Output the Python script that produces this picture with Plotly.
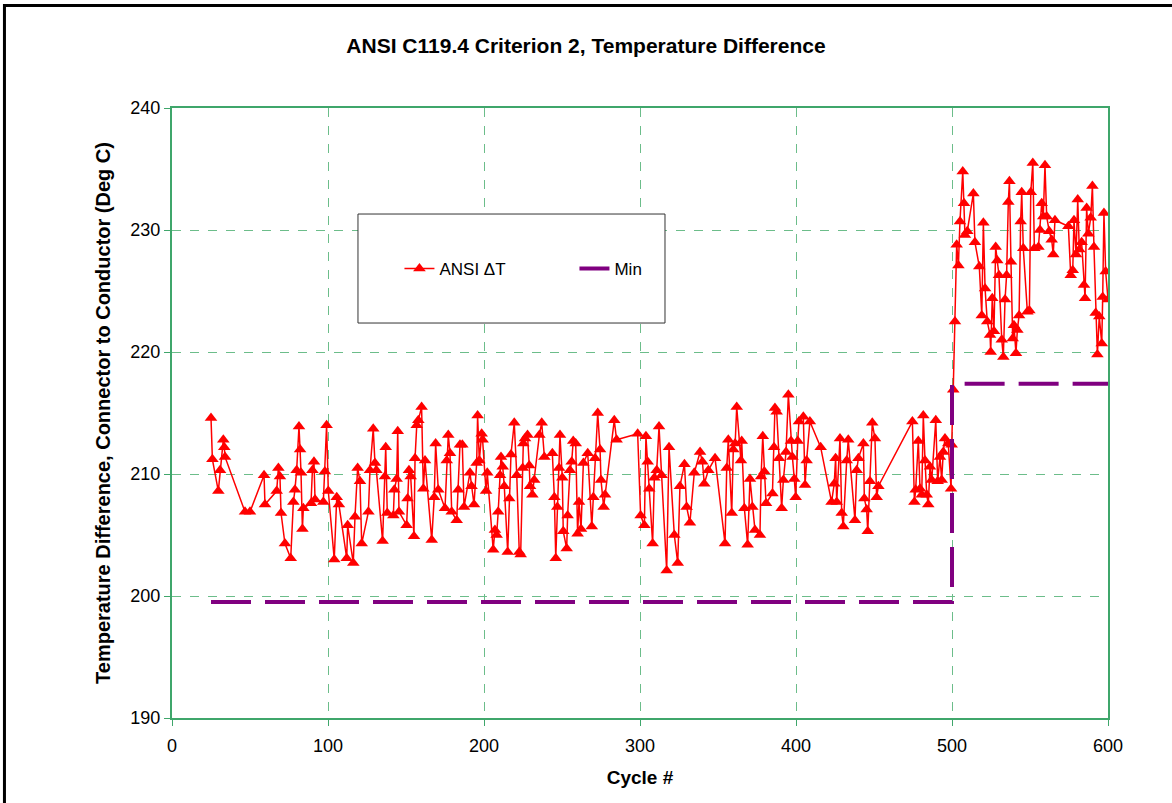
import plotly.graph_objects as go

# ---- data ----
cycles = [
    25.0, 25.9, 29.7, 30.8, 32.9, 33.5, 34.0, 46.8, 50.0, 59.0, 59.6, 67.1, 68.2, 69.2, 69.9, 72.4,
    76.1, 77.8, 78.8, 79.9, 81.4, 82.1, 82.7, 83.6, 84.2, 89.1, 90.0, 91.0, 91.7, 97.0, 98.0, 99.1,
    100.2, 104.0, 105.6, 107.0, 112.0, 112.6, 116.2, 117.3, 119.0, 120.5, 121.6,
    125.9, 126.9, 129.0, 130.1, 131.0, 135.0, 136.5, 137.0, 138.0, 141.9, 142.5, 144.0, 144.7, 145.5,
    150.4, 151.0, 151.9, 153.0, 155.1, 155.8, 156.9, 157.9, 160.0, 161.1, 162.2, 166.5, 168.1, 169.0,
    170.7, 175.0, 176.1, 177.1, 178.2, 179.3, 182.5, 183.5, 184.6, 186.1, 187.2, 191.0, 192.0, 193.6,
    195.3, 195.9, 197.0, 198.5, 199.1, 201.3, 202.1, 205.9, 207.0, 208.1, 209.1, 210.3, 210.9, 212.0,
    213.0, 215.2, 216.2, 217.3, 219.4, 221.0, 222.6, 223.5, 224.8, 225.2,
    226.3, 227.9, 229.0, 229.5, 231.0, 232.2, 235.5, 237.0, 238.7, 243.8, 245.1, 246.0, 247.0, 248.1,
    248.7, 250.2, 250.8, 253.0, 253.6, 255.1, 256.2, 257.2, 258.8, 260.0, 260.9, 262.2, 263.7, 266.5,
    269.1, 270.1, 271.2, 272.9, 274.4, 275.0, 276.7, 277.6, 283.5, 285.0, 298.5, 300.4, 302.8, 303.8,
    304.9, 305.9, 308.1, 309.2, 310.7, 312.2, 313.9, 317.1, 318.6, 322.0, 324.2, 325.6,
    328.5, 329.9, 332.0, 334.8, 338.5, 340.0, 341.2, 343.8, 348.1, 354.5, 355.6, 356.6, 358.8, 359.8,
    361.0, 362.0, 364.7, 365.2, 366.9, 369.0, 370.5, 372.0, 373.7, 376.9, 377.6, 378.7, 379.7, 380.8,
    384.9, 385.9, 386.5, 387.6, 389.1, 390.8, 391.9, 393.6, 395.1, 396.8, 397.7, 398.9, 399.8, 401.1,
    401.9, 404.7, 405.8, 406.8, 408.9, 415.8, 422.8, 424.5, 425.4, 426.1, 428.2, 429.3, 430.3, 432.5,
    433.5, 437.8, 438.9, 440.0, 443.2, 443.8, 445.3, 446.0, 447.4, 448.9, 450.6, 451.7, 452.8,
    474.6, 475.9, 476.7, 478.4, 479.5, 480.6, 481.6, 482.7, 483.8, 484.8, 485.9, 487.0, 489.6, 490.8,
    492.3, 493.4, 494.4, 495.5, 497.6, 499.4, 499.8, 500.8,
    501.9, 503.0, 504.1, 505.1, 506.9, 507.7, 508.3, 509.8, 513.7, 514.7, 517.5, 519.1, 520.1, 521.2,
    522.6, 524.4, 524.8, 525.8, 526.9, 528.0, 529.0, 530.1, 531.9, 532.9, 534.0, 535.0, 536.1, 536.8,
    537.8, 538.9, 539.7, 541.0, 541.9, 543.0, 544.0, 544.7, 545.7, 548.3, 549.6, 550.5, 551.8, 552.8,
    555.4, 556.4, 557.5, 558.5, 559.6, 560.7, 562.3, 563.9, 564.9, 566.0, 574.6, 576.1, 577.4, 578.2,
    579.5, 580.6, 581.6, 583.1, 584.6, 585.3, 586.3, 587.4, 588.9, 590.0, 591.0, 592.1, 593.2, 594.4,
    596.0, 596.6, 597.4, 598.5, 600.0,
]
ansi_dt = [
    214.6, 211.2, 208.6, 210.3, 212.8, 212.2, 211.4, 206.9, 206.9, 209.9, 207.5, 208.6, 210.5, 209.8, 206.8, 204.3,
    203.1, 207.7, 208.7, 210.3, 213.9, 212.0, 210.1, 205.5, 207.2, 207.6, 210.3, 211.0, 207.9, 207.7, 210.2, 214.0,
    208.6, 203.0, 208.1, 207.5, 203.1, 205.8, 202.7, 206.5, 210.5, 209.4, 204.3,
    206.9, 210.3, 213.7, 210.9, 210.3, 204.5, 209.8, 212.2, 206.8, 206.6, 208.7, 209.6, 213.5, 206.9,
    205.8, 208.0, 210.3, 209.8, 204.9, 211.3, 214.0, 214.4, 215.5, 208.8, 211.1, 204.6, 208.1, 212.5,
    208.7, 207.2, 211.1, 213.2, 211.7, 206.9, 206.2, 208.7, 212.4, 212.4, 207.3, 210.1, 209.0, 207.5,
    210.9, 214.8, 211.1, 213.3, 212.8, 208.6, 210.1, 203.8, 205.4, 205.0, 206.9, 209.9, 211.4, 210.6,
    209.0, 203.6, 208.0, 211.6, 214.2, 209.9, 203.6, 203.4, 210.5, 212.5,
    212.9, 213.2, 210.7, 209.0, 208.3, 209.5, 213.2, 214.2, 211.4, 211.7, 208.1, 203.1, 207.3, 210.5,
    213.2, 209.7, 205.3, 203.9, 206.6, 210.3, 211.0, 212.7, 212.5, 205.1, 207.7, 205.5, 210.9, 211.7,
    205.7, 208.1, 211.3, 215.0, 212.0, 209.5, 207.3, 208.3, 214.4, 212.8, 213.3, 206.6, 205.8, 213.1,
    211.0, 208.8, 204.3, 209.7, 210.3, 213.9, 209.9, 202.1, 212.2, 205.0, 202.7, 209.0,
    210.8, 207.3, 206.0, 210.1, 211.8, 211.0, 209.2, 210.3, 211.3, 204.3, 210.5, 212.8, 206.8, 212.0,
    212.5, 215.5, 211.1, 212.7, 207.2, 204.2, 209.6, 207.3, 205.4, 205.0, 209.8, 213.1, 210.2, 207.6,
    208.4, 212.2, 215.4, 215.1, 211.3, 207.2, 209.5, 211.8, 216.5, 212.7, 211.4, 209.6, 208.1, 212.7,
    214.3, 214.7, 209.1, 211.1, 214.3, 212.2, 207.7, 209.2, 211.3, 207.7, 212.9, 206.8, 205.7, 211.1,
    212.8, 206.2, 210.3, 211.3, 212.5, 208.0, 207.1, 205.3, 209.4, 214.2, 212.9, 208.1, 209.0,
    214.3, 207.7, 208.7, 212.7, 208.8, 208.3, 214.8, 211.1, 208.3, 207.5, 210.6, 209.5, 214.4, 209.4,
    211.4, 209.5, 211.8, 212.9, 212.5, 208.8, 212.4, 216.9,
    222.5, 228.8, 227.1, 230.7, 234.8, 232.2, 229.6, 229.9, 233.0, 229.0, 227.0, 223.0, 230.6, 225.2,
    222.5, 221.4, 220.0, 224.4, 221.7, 228.6, 227.5, 226.3, 221.0, 219.6, 224.3, 226.3, 232.3, 234.0,
    227.4, 221.1, 222.2, 219.9, 221.8, 223.0, 230.7, 233.1, 228.5, 223.3, 223.4, 233.1, 235.5, 228.5,
    228.6, 230.0, 232.2, 231.1, 235.3, 231.1, 229.9, 229.2, 228.0, 230.8, 230.3, 226.3, 226.7, 230.8,
    228.0, 232.5, 228.4, 229.0, 225.5, 224.4, 231.8, 229.7, 231.0, 233.6, 228.6, 223.2, 219.8, 222.9,
    220.7, 224.5, 231.4, 226.6, 224.3,
]
min_cycles = [25, 500, 500, 600]
min_values = [199.5, 199.5, 217.4, 217.4]

x_ticks = [0, 100, 200, 300, 400, 500, 600]
y_ticks = [190, 200, 210, 220, 230, 240]

title_text = "ANSI C119.4 Criterion 2, Temperature Difference"
x_title = "Cycle #"
y_title = "Temperature Difference, Connector to Conductor (Deg C)"

FONT = "Arial, 'Liberation Sans', sans-serif"
GREEN = "#3fa66b"
GRID = "#6cbd8a"

fig = go.Figure()
fig.add_trace(go.Scatter(
    x=cycles, y=ansi_dt, name="ANSI ΔT", mode="lines+markers",
    line=dict(color="#ff0000", width=1.5),
    marker=dict(symbol="triangle-up", size=11, color="#ff0000"),
))
fig.add_trace(go.Scatter(
    x=min_cycles, y=min_values, name="Min", mode="lines",
    line=dict(color="#800080", width=4, dash="40px,14px"),
))

fig.update_layout(
    width=1172, height=803,
    margin=dict(l=172, r=64, t=108, b=85),
    paper_bgcolor="white", plot_bgcolor="white",
    font=dict(family=FONT, size=18, color="black"),
    title=dict(text=title_text, x=0.5, xanchor="center", y=0.943, yanchor="middle",
               font=dict(family=FONT, size=21, color="black", weight="bold")),
    showlegend=True,
    legend=dict(orientation="h", x=0.243, y=0.736, xanchor="left", yanchor="middle",
                bgcolor="rgba(0,0,0,0)", borderwidth=0,
                font=dict(family=FONT, size=17), entrywidth=130, entrywidthmode="pixels"),
    shapes=[
        dict(type="rect", xref="paper", yref="paper", x0=0.1987, x1=0.5267, y0=0.6475, y1=0.8262,
             line=dict(color="#333333", width=1), fillcolor="white", layer="above"),
        dict(type="rect", xref="paper", yref="paper", x0=-0.179, x1=1.08, y0=-0.16, y1=1.168,
             line=dict(color="black", width=3), fillcolor="rgba(0,0,0,0)", layer="above"),
    ],
)
fig.update_xaxes(
    range=[0, 600], tickvals=x_ticks, ticks="outside", ticklen=6, tickcolor=GREEN,
    showline=True, linecolor=GREEN, linewidth=2, mirror=True,
    showgrid=True, gridcolor=GRID, griddash="dash", gridwidth=1, zeroline=False,
    tickfont=dict(family=FONT, size=18), ticklabelstandoff=4,
    title=dict(text=x_title, font=dict(family=FONT, size=19, weight="bold"), standoff=16),
)
fig.update_yaxes(
    range=[190, 240], tickvals=y_ticks, ticks="outside", ticklen=6, tickcolor=GREEN,
    showline=True, linecolor=GREEN, linewidth=2, mirror=True,
    showgrid=True, gridcolor=GRID, griddash="dash", gridwidth=1, zeroline=False,
    tickfont=dict(family=FONT, size=18),
    title=dict(text=y_title, font=dict(family=FONT, size=20, weight="bold"), standoff=14),
)

fig.write_html("out.html")
